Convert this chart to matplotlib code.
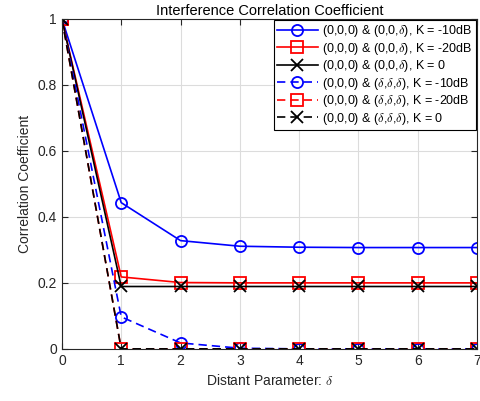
import matplotlib.pyplot as plt
import numpy as np

plt.rcParams.update({
    "font.family": ["Liberation Sans", "DejaVu Sans"],
    "mathtext.fontset": "cm",
})

delta = [0, 1, 2, 3, 4, 5, 6, 7]

# (0,0,0) & (0,0,delta)
same_k10 = [1.0, 0.443, 0.328, 0.311, 0.308, 0.307, 0.307, 0.307]
same_k20 = [1.0, 0.218, 0.201, 0.200, 0.200, 0.200, 0.200, 0.200]
same_k0 = [1.0, 0.189, 0.189, 0.189, 0.189, 0.189, 0.189, 0.189]
# (0,0,0) & (delta,delta,delta)
diag_k10 = [1.0, 0.097, 0.018, 0.002, 0.0, 0.0, 0.0, 0.0]
diag_k20 = [1.0, 0.0, 0.0, 0.0, 0.0, 0.0, 0.0, 0.0]
diag_k0 = [1.0, 0.0, 0.0, 0.0, 0.0, 0.0, 0.0, 0.0]

series = [
    (same_k10, "b", "-", "o", r"(0,0,0) & (0,0,$\delta$), K = -10dB"),
    (same_k20, "r", "-", "s", r"(0,0,0) & (0,0,$\delta$), K = -20dB"),
    (same_k0, "k", "-", "x", r"(0,0,0) & (0,0,$\delta$), K = 0"),
    (diag_k10, "b", "--", "o", r"(0,0,0) & ($\delta$,$\delta$,$\delta$), K = -10dB"),
    (diag_k20, "r", "--", "s", r"(0,0,0) & ($\delta$,$\delta$,$\delta$), K = -20dB"),
    (diag_k0, "k", "--", "x", r"(0,0,0) & ($\delta$,$\delta$,$\delta$), K = 0"),
]

fig = plt.figure(figsize=(4.8, 4.01), dpi=100)
ax = fig.add_axes([0.129, 0.130, 0.865, 0.823])

for vals, c, ls, mk, lab in series:
    ax.plot(delta, vals, color=c, ls=ls, marker=mk, ms=8 if mk != "x" else 9,
            mfc="none", mew=1.3, lw=1.2, label=lab,
            dashes=(5, 3) if ls == "--" else (None, None))

ax.set_xlim(0, 7)
ax.set_ylim(0, 1)
ax.set_xticks(range(8))
ax.set_yticks([0, 0.2, 0.4, 0.6, 0.8, 1])
ax.set_yticklabels(["0", "0.2", "0.4", "0.6", "0.8", "1"])
ax.grid(True, color="#dcdcdc", lw=0.8)
ax.set_axisbelow(True)
ax.tick_params(direction="in", top=True, right=True, labelsize=10,
               length=4, colors="#262626")
for sp in ax.spines.values():
    sp.set_color("#262626")
    sp.set_linewidth(0.8)

ax.set_xlabel(r"Distant Parameter: $\delta$", fontsize=10, color="#262626")
ax.set_ylabel("Correlation Coefficient", fontsize=10, color="#262626")
ax.set_title("Interference Correlation Coefficient", fontsize=10.5, pad=3)

leg = ax.legend(loc="upper right", fontsize=9, handlelength=3.3,
                borderaxespad=0.1, labelspacing=0.12, handletextpad=0.35,
                fancybox=False, framealpha=1, borderpad=0.25)
leg.get_frame().set_edgecolor("k")
leg.get_frame().set_linewidth(0.8)

fig.savefig("out.png", dpi=100)
